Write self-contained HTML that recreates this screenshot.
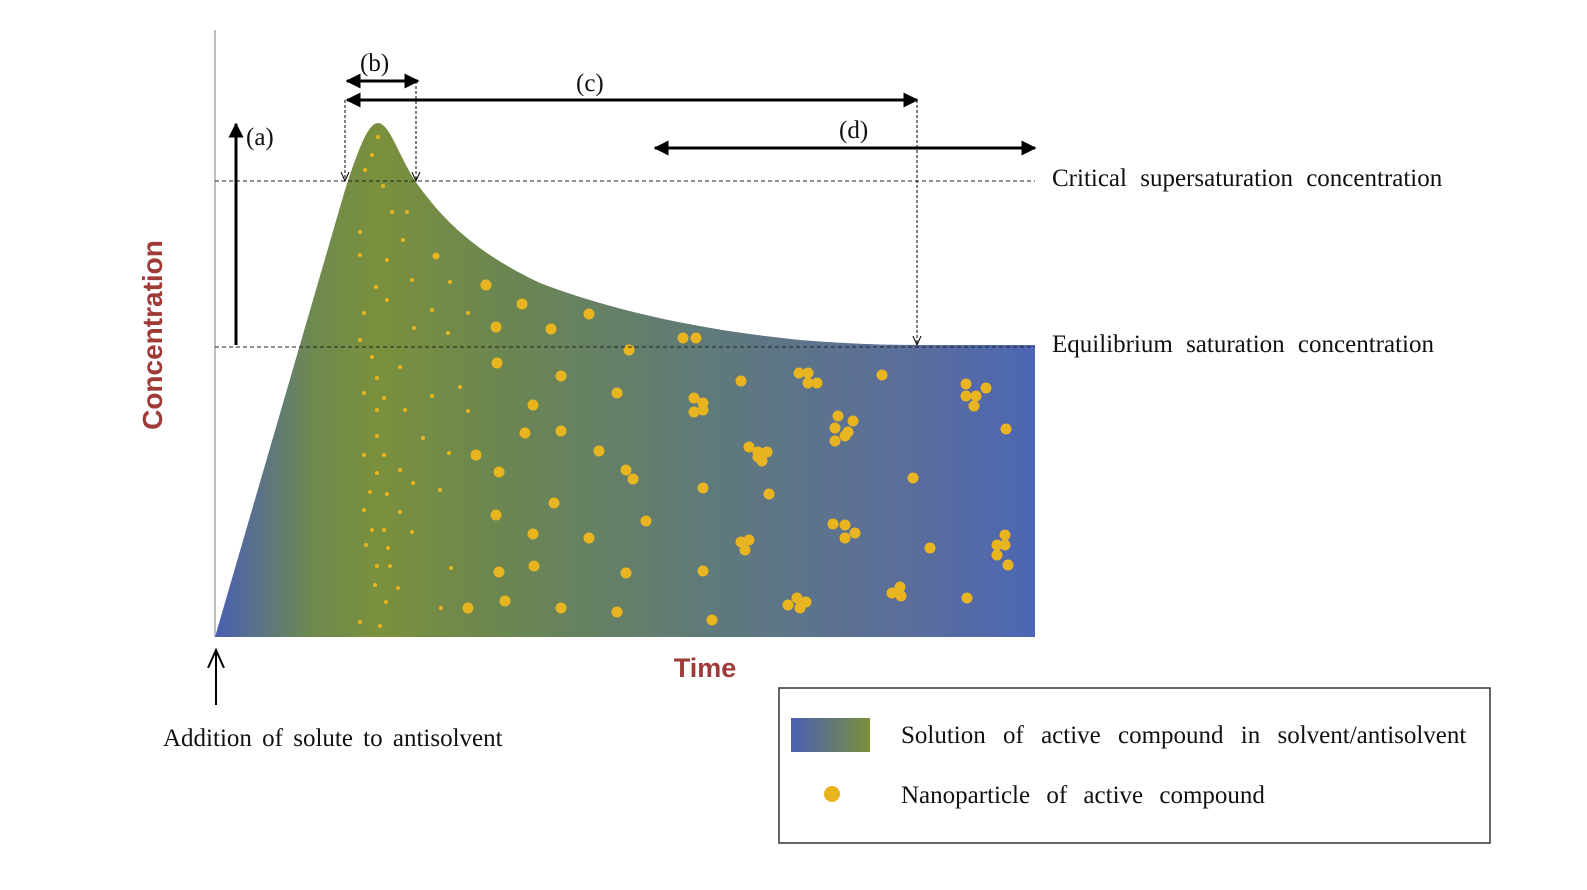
<!DOCTYPE html>
<html><head><meta charset="utf-8"><style>
body{margin:0;background:#fff;}
svg{display:block;}
.s{font-family:"Liberation Serif",serif;font-size:25px;fill:#111;}
</style></head><body>
<svg id="c" width="1587" height="890" viewBox="0 0 1587 890" xmlns="http://www.w3.org/2000/svg">
<defs>
<linearGradient id="g" x1="215" x2="1035" y1="0" y2="0" gradientUnits="userSpaceOnUse">
<stop offset="0" stop-color="#4a5fb4"/>
<stop offset="0.12" stop-color="#6e8a4e"/>
<stop offset="0.2" stop-color="#7a903c"/>
<stop offset="0.35" stop-color="#6b8650"/>
<stop offset="0.6" stop-color="#5f7a7a"/>
<stop offset="0.85" stop-color="#5a6d9c"/>
<stop offset="1" stop-color="#4d66b4"/>
</linearGradient>
<linearGradient id="g2" x1="0" x2="1" y1="0" y2="0">
<stop offset="0" stop-color="#4a5fb4"/><stop offset="1" stop-color="#7a903c"/>
</linearGradient>
<marker id="ah" viewBox="0 0 10 10" refX="9" refY="5" markerWidth="5" markerHeight="5" orient="auto-start-reverse"><path d="M0,0L10,5L0,10z" fill="#000"/></marker>
<marker id="ao" viewBox="0 0 10 10" refX="9" refY="5" markerWidth="10" markerHeight="10" orient="auto-start-reverse"><path d="M0,1L9,5L0,9" fill="none" stroke="#000" stroke-width="1"/></marker>
</defs>
<line x1="215" y1="30" x2="215" y2="637" stroke="#aaa" stroke-width="1.5"/>
<path fill="url(#g)" d="M215,637 L345,190 C358,150 368,123 378,123 C390,123 400,160 418,185 C440,215 470,250 540,283 C610,310 700,330 800,340 C850,344 890,345 915,345 L1035,345 L1035,637 Z"/>
<g id="dots"></g>
<line x1="215" y1="181" x2="1035" y2="181" stroke="#222" stroke-dasharray="4,3" stroke-width="1"/>
<line x1="215" y1="347" x2="1035" y2="347" stroke="#222" stroke-dasharray="4,3" stroke-width="1"/>
<line x1="236" y1="345" x2="236" y2="124" stroke="#000" stroke-width="3" marker-end="url(#ah)"/>
<text class="s" x="246" y="145">(a)</text>
<line x1="347" y1="81" x2="418" y2="81" stroke="#000" stroke-width="3" marker-start="url(#ah)" marker-end="url(#ah)"/>
<text class="s" x="360" y="71">(b)</text>
<line x1="347" y1="100" x2="917" y2="100" stroke="#000" stroke-width="3" marker-start="url(#ah)" marker-end="url(#ah)"/>
<text class="s" x="576" y="91">(c)</text>
<line x1="655" y1="148" x2="1035" y2="148" stroke="#000" stroke-width="3" marker-start="url(#ah)" marker-end="url(#ah)"/>
<text class="s" x="839" y="138">(d)</text>
<line x1="345" y1="100" x2="345" y2="181" stroke="#000" stroke-dasharray="3,2" marker-end="url(#ao)"/>
<line x1="416" y1="81" x2="416" y2="181" stroke="#000" stroke-dasharray="3,2" marker-end="url(#ao)"/>
<line x1="917" y1="100" x2="917" y2="345" stroke="#000" stroke-dasharray="3,2" marker-end="url(#ao)"/>
<text class="s" x="1052" y="186" word-spacing="7">Critical supersaturation concentration</text>
<text class="s" x="1052" y="352" word-spacing="7">Equilibrium saturation concentration</text>
<text transform="translate(162,335) rotate(-90)" text-anchor="middle" font-family="Liberation Sans,sans-serif" font-weight="bold" font-size="28" fill="#9e3a37">Concentration</text>
<text x="705" y="677" text-anchor="middle" font-family="Liberation Sans,sans-serif" font-weight="bold" font-size="27" fill="#9e3a37">Time</text>
<line x1="216" y1="705" x2="216" y2="650" stroke="#000" stroke-width="2" marker-end="url(#ao)"/>
<text class="s" x="163" y="746" word-spacing="4">Addition of solute to antisolvent</text>
<g>
<rect x="779" y="688" width="711" height="155" fill="#fff" stroke="#333" stroke-width="1.5"/>
<rect x="791" y="718" width="79" height="34" fill="url(#g2)"/>
<text class="s" x="901" y="743" word-spacing="11">Solution of active compound in solvent/antisolvent</text>
<circle cx="832" cy="794" r="8" fill="#e8b420"/>
<text class="s" x="901" y="803" word-spacing="10">Nanoparticle of active compound</text>
</g>
</svg>
<script>
const smallX=[378,372,365,383,392,407,360,403,387,360,376,387,412,364,414,432,448,468,450,360,372,400,377,364,384,432,460,377,405,468,377,423,364,384,400,377,413,440,370,387,364,400,372,384,412,366,388,377,390,451,375,398,386,441,360,380,449];
const smallY=[137,155,170,186,212,212,232,240,260,255,287,300,280,313,328,310,333,313,282,340,357,367,378,393,398,396,387,410,410,411,436,438,455,455,470,473,483,490,492,494,510,512,530,530,532,545,548,566,566,568,585,588,602,608,622,626,453];
const bigX=[436,486,522,496,551,589,629,683,696,497,561,617,533,525,561,599,476,499,626,633,554,496,533,589,646,703,626,534,499,505,468,561,617,712,703,741,799,808,808,817,694,703,694,703,749,758,767,762,758,769,838,853,835,848,835,845,882,913,966,986,976,966,974,1006,741,749,745,833,845,855,845,930,1005,997,1005,997,1008,788,797,806,800,892,900,901,967];
const bigY=[256,285,304,327,329,314,350,338,338,363,376,393,405,433,431,451,455,472,470,479,503,515,534,538,521,488,573,566,572,601,608,608,612,620,571,381,373,373,383,383,398,403,412,410,447,452,452,461,457,494,416,421,428,432,441,436,375,478,384,388,396,396,406,429,542,540,550,524,525,533,538,548,535,545,545,555,565,605,598,602,608,593,587,596,598];
const g=document.getElementById('dots');
function dot(x,y,r){const c=document.createElementNS('http://www.w3.org/2000/svg','circle');
c.setAttribute('cx',x);c.setAttribute('cy',y);c.setAttribute('r',r);c.setAttribute('fill','#e8b420');


g.appendChild(c);}
smallX.forEach((x,i)=>dot(x,smallY[i],2));
bigX.forEach((x,i)=>dot(x,bigY[i],i==0?3.5:5.5));
</script>
</body></html>
